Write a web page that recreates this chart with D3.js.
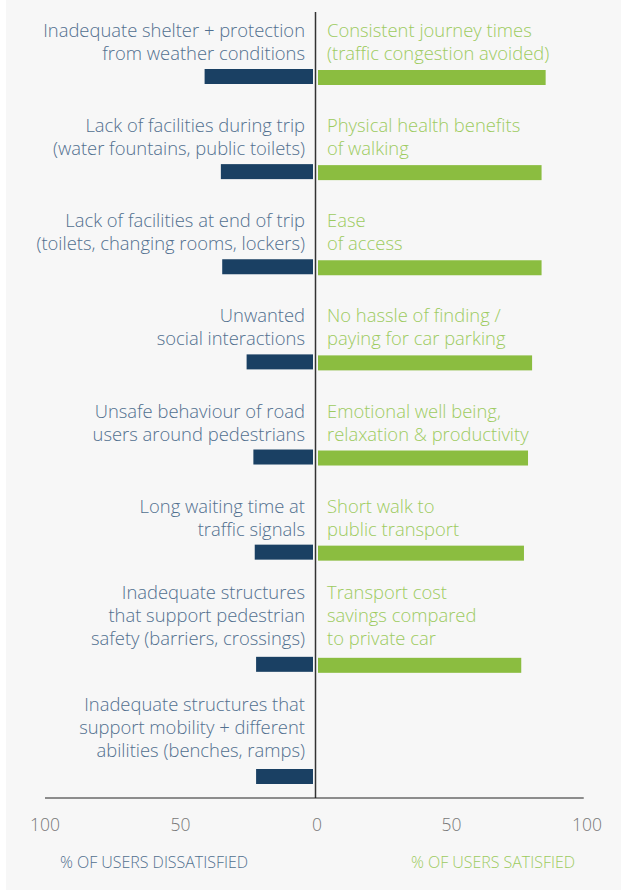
<!DOCTYPE html>
<html>
<head>
<meta charset="utf-8">
<script src="https://cdn.jsdelivr.net/npm/d3@7"></script>
<style>
  html, body { margin: 0; padding: 0; background: #ffffff; }
  svg { display: block; }
  text { font-family: "Open Sans", "Noto Sans", sans-serif; font-weight: 300; }
</style>
</head>
<body>
<svg id="chart" width="621" height="890"></svg>
<script>
// ---- data ----
const dissatisfiedLabels = [
  ["Inadequate shelter + protection", "from weather conditions"],
  ["Lack of facilities during trip", "(water fountains, public toilets)"],
  ["Lack of facilities at end of trip", "(toilets, changing rooms, lockers)"],
  ["Unwanted", "social interactions"],
  ["Unsafe behaviour of road", "users around pedestrians"],
  ["Long waiting time at", "traffic signals"],
  ["Inadequate structures", "that support pedestrian", "safety (barriers, crossings)"],
  ["Inadequate structures that", "support mobility + different", "abilities (benches, ramps)"]
];
const dissatisfiedValues = [40, 34, 33.5, 24.5, 22, 21.5, 21, 21];

const satisfiedLabels = [
  ["Consistent journey times", "(traffic congestion avoided)"],
  ["Physical health benefits", "of walking"],
  ["Ease", "of access"],
  ["No hassle of finding /", "paying for car parking"],
  ["Emotional well being,", "relaxation & productivity"],
  ["Short walk to", "public transport"],
  ["Transport cost", "savings compared", "to private car"]
];
const satisfiedValues = [84, 82.5, 82.5, 79, 77.5, 76, 75];

const tickValues = [100, 50, 0, 50, 100];
const axisTitles = ["% OF USERS DISSATISFIED", "% OF USERS SATISFIED"];

// ---- layout ----
const W = 621, H = 890;
const colors = {
  bg: "#f7f7f7", blue: "#1a4063", green: "#8bbd40",
  blueText: "#52708f", greenText: "#9dcb5f", tick: "#777777", axis: "#222222"
};
const svg = d3.select("#chart");
svg.append("rect").attr("x", 6).attr("y", 0).attr("width", W - 6).attr("height", H).attr("fill", colors.bg);

const center = 316;
const xL = d3.scaleLinear().domain([0, 100]).range([center, 45]);
const xR = d3.scaleLinear().domain([0, 100]).range([center, 587]);

// row positions: rows with more label lines get more room
const nRows = dissatisfiedLabels.length;
const rowLines = d3.range(nRows).map(i => Math.max(dissatisfiedLabels[i].length, (satisfiedLabels[i] || []).length));
const units = [0];
for (let i = 1; i < nRows; i++) units.push(units[i - 1] + rowLines[i] + 3.58);
const y = d3.scaleLinear().domain([0, units[nRows - 1]]).range([69, 769]);
const barH = 15;
const lineH = 23;
const axisY = y(units[nRows - 1]) + barH + 14;

// center line
svg.append("line")
  .attr("x1", center - 0.5).attr("x2", center - 0.5)
  .attr("y1", 12).attr("y2", axisY)
  .attr("stroke", "#333").attr("stroke-width", 1.5);

// axis line
svg.append("line")
  .attr("x1", xL(100)).attr("x2", xR(98.8))
  .attr("y1", axisY).attr("y2", axisY)
  .attr("stroke", colors.axis).attr("stroke-width", 1);

// dissatisfied bars
svg.append("g").selectAll("rect").data(dissatisfiedValues).join("rect")
  .attr("x", d => xL(d) - 3)
  .attr("y", (d, i) => y(units[i]))
  .attr("width", d => xL(0) - xL(d))
  .attr("height", barH)
  .attr("fill", colors.blue);

// satisfied bars
svg.append("g").selectAll("rect").data(satisfiedValues).join("rect")
  .attr("x", xR(0) + 2)
  .attr("y", (d, i) => y(units[i]) + 1)
  .attr("width", d => xR(d) - xR(0))
  .attr("height", barH)
  .attr("fill", colors.green);

// labels
function drawLabels(labels, x, anchor, fill) {
  const g = svg.append("g");
  labels.forEach((lines, i) => {
    const lastBase = y(units[i]) - 9 - (lines.length === 3 ? 3 : 0);
    const t = g.append("text")
      .attr("x", x).attr("text-anchor", anchor)
      .attr("fill", fill).attr("font-size", 18.4);
    lines.forEach((ln, j) => {
      t.append("tspan").attr("x", x)
        .attr("y", lastBase - (lines.length - 1 - j) * lineH)
        .text(ln);
    });
  });
}
drawLabels(dissatisfiedLabels, 305, "end", colors.blueText);
drawLabels(satisfiedLabels, 327, "start", colors.greenText);

// tick labels
const tickPos = [xL(100), xL(50), xL(0), xR(50), xR(100)];
svg.append("g").selectAll("text").data(tickValues).join("text")
  .attr("x", (d, i) => tickPos[i] + (i === 2 ? 1 : 0))
  .attr("y", axisY + 33)
  .attr("text-anchor", "middle")
  .attr("fill", colors.tick)
  .attr("font-size", 17.5)
  .text(d => d);

// axis titles
svg.append("text").attr("x", 154).attr("y", axisY + 70)
  .attr("text-anchor", "middle").attr("fill", colors.blueText)
  .attr("font-size", 16).attr("textLength", 188).text(axisTitles[0]);
svg.append("text").attr("x", 493).attr("y", axisY + 70)
  .attr("text-anchor", "middle").attr("fill", colors.greenText)
  .attr("font-size", 16).attr("textLength", 164).text(axisTitles[1]);
</script>
</body>
</html>
